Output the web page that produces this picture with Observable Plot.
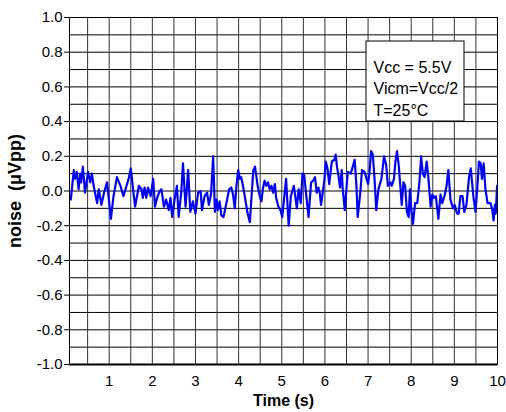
<!DOCTYPE html>
<html><head><meta charset="utf-8">
<script src="https://cdn.jsdelivr.net/npm/d3@7"></script>
<script src="https://cdn.jsdelivr.net/npm/@observablehq/plot@0.6"></script>
<style>
body{margin:0;background:#fff;}
#chart svg{font-family:"Liberation Sans",Arial,sans-serif;background:#fff;}
#chart g[aria-label="x-axis label"] text{font-weight:bold;font-size:16px;}
#chart g[aria-label="y-axis label"] text{font-weight:bold;font-size:18px;}
</style></head><body><div id="chart"></div>
<script>
const timeS = [0.11,0.18,0.21,0.25,0.29,0.33,0.35,0.39,0.44,0.51,0.56,0.60,0.64,0.72,0.76,0.82,0.88,0.95,1.04,1.10,1.18,1.26,1.33,1.39,1.45,1.50,1.60,1.69,1.75,1.78,1.82,1.86,1.90,1.96,2.02,2.06,2.11,2.17,2.21,2.27,2.32,2.38,2.42,2.46,2.52,2.57,2.61,2.67,2.71,2.77,2.83,2.88,2.94,3.00,3.06,3.12,3.15,3.21,3.27,3.31,3.36,3.41,3.45,3.49,3.52,3.56,3.60,3.65,3.70,3.74,3.78,3.83,3.87,3.91,3.95,3.99,4.03,4.06,4.10,4.15,4.20,4.26,4.30,4.34,4.38,4.44,4.49,4.53,4.56,4.60,4.64,4.68,4.72,4.76,4.80,4.84,4.87,4.92,4.97,5.01,5.10,5.16,5.21,5.28,5.35,5.39,5.44,5.48,5.52,5.62,5.68,5.73,5.77,5.81,5.85,5.88,5.91,5.95,5.99,6.02,6.06,6.10,6.16,6.22,6.25,6.28,6.32,6.35,6.39,6.41,6.46,6.53,6.60,6.69,6.73,6.76,6.82,6.86,6.92,7.00,7.03,7.07,7.11,7.15,7.19,7.24,7.31,7.37,7.42,7.46,7.52,7.55,7.60,7.63,7.67,7.71,7.75,7.78,7.82,7.86,7.90,7.94,7.97,8.00,8.04,8.09,8.14,8.19,8.23,8.27,8.31,8.36,8.40,8.45,8.49,8.52,8.57,8.63,8.68,8.72,8.78,8.82,8.86,8.91,8.97,9.01,9.06,9.10,9.14,9.19,9.23,9.28,9.34,9.38,9.44,9.49,9.53,9.57,9.61,9.64,9.68,9.72,9.77,9.81,9.84,9.88,9.91,9.94,9.96,9.99];
const noiseUVpp = [-0.05,0.12,0.07,0.11,0.01,0.10,0.05,0.14,-0.01,0.11,0.05,0.10,0.03,-0.07,0.01,-0.08,-0.01,0.05,-0.16,-0.03,0.08,0.03,-0.03,0.02,0.07,0.13,-0.09,0.03,0.01,-0.04,0.02,-0.04,0.02,-0.03,0.07,-0.09,-0.04,0.00,0.01,-0.09,-0.05,-0.11,-0.04,-0.15,-0.04,0.03,-0.15,-0.01,0.16,-0.09,0.12,-0.12,-0.06,-0.13,-0.01,0.00,-0.11,-0.03,-0.01,-0.08,-0.02,0.20,-0.12,-0.05,-0.11,-0.06,-0.14,-0.15,-0.09,-0.04,0.01,0.02,-0.02,-0.10,0.03,0.12,0.07,0.08,0.03,-0.04,-0.12,-0.18,-0.03,0.12,0.14,0.03,-0.03,-0.06,0.01,0.06,0.03,0.05,0.01,0.03,-0.01,0.04,-0.04,-0.09,-0.11,-0.15,0.07,-0.20,-0.03,0.03,-0.10,0.01,-0.07,0.10,0.09,-0.15,0.05,0.06,0.08,-0.01,0.02,-0.01,-0.08,-0.01,0.07,0.17,0.13,0.04,0.17,0.18,0.21,0.14,0.08,0.02,0.12,0.02,-0.11,0.11,0.10,0.18,0.03,-0.15,-0.01,0.12,0.11,0.04,0.10,0.23,0.21,0.07,-0.11,0.01,0.07,0.20,0.15,0.03,0.05,0.03,0.07,0.16,0.23,0.15,0.02,-0.08,0.05,0.03,-0.12,-0.15,0.01,-0.10,-0.19,-0.07,-0.07,0.05,0.20,0.10,0.08,0.17,0.07,-0.09,-0.02,-0.04,-0.03,-0.16,-0.02,-0.07,-0.02,0.03,0.12,-0.05,-0.10,-0.08,-0.13,-0.13,-0.03,-0.03,-0.12,-0.08,0.08,0.13,-0.03,-0.12,0.01,0.17,0.16,0.07,0.16,0.01,-0.07,-0.07,-0.07,-0.11,-0.17,-0.08,-0.13,0.03];
const xTicks = [1,2,3,4,5,6,7,8,9,10];
const yTicks = [-1.0,-0.8,-0.6,-0.4,-0.2,0.0,0.2,0.4,0.6,0.8,1.0];
const xGrid = [0.5,1,1.5,2,2.5,3,3.5,4,4.5,5,5.5,6,6.5,7,7.5,8,8.5,9,9.5];
const yGrid = [-0.9,-0.8,-0.7,-0.6,-0.5,-0.4,-0.3,-0.2,-0.1,0,0.1,0.2,0.3,0.4,0.5,0.6,0.7,0.8,0.9];
const legendLines = ["Vcc = 5.5V","Vicm=Vcc/2","T=25°C"];
const xLabel = "Time (s)";
const yLabel = "noise\u00a0 (μVpp)";

const data = timeS.map((t, i) => ({t, v: noiseUVpp[i]}));

const legendBox = (index, scales, values, dims) => {
  const r = document.createElementNS("http://www.w3.org/2000/svg", "rect");
  const right = dims.width - dims.marginRight;
  r.setAttribute("x", right - 131);
  r.setAttribute("y", dims.marginTop + 24);
  r.setAttribute("width", 98);
  r.setAttribute("height", 80);
  r.setAttribute("fill", "white");
  r.setAttribute("stroke", "black");
  return r;
};

const chart = Plot.plot({
  width: 506, height: 412,
  marginLeft: 69, marginRight: 9, marginTop: 17, marginBottom: 48,
  style: {fontSize: "15px", fontFamily: "Liberation Sans, Arial, sans-serif", color: "black"},
  x: {domain: [0.08, 10]},
  y: {domain: [-1, 1]},
  marks: [
    Plot.gridY(yGrid, {stroke: "black", strokeOpacity: 1}),
    Plot.gridX(xGrid, {stroke: "#333", strokeOpacity: 1}),
    Plot.line(data, {x: "t", y: "v", stroke: "#0000ff", strokeWidth: 2.2}),
    Plot.frame({stroke: "black"}),
    Plot.ruleY([-1], {stroke: "black", strokeWidth: 2}),
    Plot.axisY(yTicks, {tickFormat: d => d.toFixed(1), tickSize: 5, tickPadding: 2, label: yLabel, labelAnchor: "center", labelOffset: 61, labelArrow: "none"}),
    Plot.axisX(xTicks, {tickFormat: d => String(d), tickSize: 0, tickPadding: 11, label: xLabel, labelAnchor: "center", labelOffset: 41, labelArrow: "none"}),
    legendBox,
    Plot.text([legendLines.join("\n")], {frameAnchor: "top-right", textAnchor: "start", lineAnchor: "top", dx: -124, dy: 40, lineHeight: 1.34, fontSize: 16, fill: "black"})
  ]
});
document.getElementById("chart").appendChild(chart);
</script></body></html>
